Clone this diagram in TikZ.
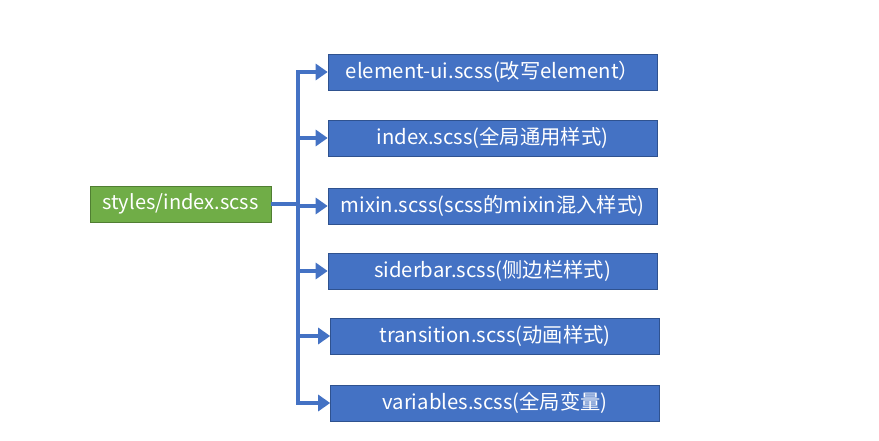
\documentclass[tikz,border=0pt]{standalone}
\usepackage{fontspec}
\setmainfont{Noto Sans CJK SC}
\usetikzlibrary{arrows.meta}
\definecolor{boxblue}{HTML}{4472C4}
\definecolor{boxblueedge}{HTML}{2F528F}
\definecolor{boxgreen}{HTML}{70AD47}
\definecolor{boxgreenedge}{HTML}{507E32}
\tikzset{
  file/.style={draw=boxblueedge, line width=0.6pt, fill=boxblue, text=white,
    minimum width=329pt, minimum height=36pt, inner sep=0pt,
    font=\fontsize{20.3}{24}\selectfont},
  rootbox/.style={draw=boxgreenedge, line width=0.6pt, fill=boxgreen, text=white,
    minimum width=181pt, minimum height=36pt, inner sep=0pt,
    font=\fontsize{20}{24}\selectfont},
  link/.style={draw=boxblue, line width=4pt,
    -{Triangle[length=12pt,width=16pt]}}
}
\begin{document}
\begin{tikzpicture}[x=1pt,y=-1pt]
\useasboundingbox[fill=white] (0,0) rectangle (879,441);
\node[rootbox] (root) at (180.5,204) {styles/index.scss};
\node[file] (f1) at (492.5,72) {element-ui.scss(改写element）};
\node[file] (f2) at (492.5,138) {index.scss(全局通用样式)};
\node[file] (f3) at (492.5,206) {mixin.scss(scss的mixin混入样式)};
\node[file] (f4) at (492.5,271) {siderbar.scss(侧边栏样式)};
\node[file] (f5) at (495,336) {transition.scss(动画样式)};
\node[file] (f6) at (495,403) {variables.scss(全局变量)};
\coordinate (trunk) at (298,204);
\foreach \f in {f1,f2,f3,f4,f5,f6}{
  \draw[link] (root.east) -- (trunk) |- (\f.west);
}
\end{tikzpicture}
\end{document}
